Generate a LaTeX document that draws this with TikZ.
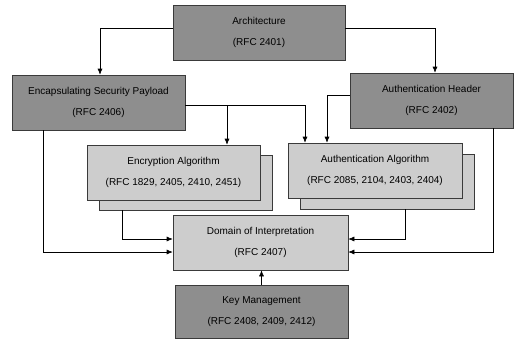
\documentclass[tikz,border=0pt]{standalone}
\usepackage{fontspec}
\setmainfont{Liberation Sans}
\usetikzlibrary{arrows.meta}
\definecolor{darkfill}{HTML}{8E8E8E}
\definecolor{lightfill}{HTML}{CDCDCD}
\definecolor{edge}{HTML}{3A3A3A}
\begin{document}
\begin{tikzpicture}[x=1pt,y=-1pt,
  box/.style={draw=edge,line width=0.6pt,minimum width=#1,minimum height=55pt,
    align=center,inner sep=0pt,font=\fontsize{10}{21}\selectfont},
  darkbox/.style={box=#1,fill=darkfill},
  lightbox/.style={box=#1,fill=lightfill},
  arr/.style={draw=black,line width=0.6pt,-{Latex[length=6pt,width=5pt]}}]
\useasboundingbox (0,0) rectangle (529,341);

% security protocol components
\node[darkbox=172pt] (arch) at (259,32.5) {Architecture\\(RFC 2401)};
\node[darkbox=173pt] (esp) at (98.5,102.5) {Encapsulating Security Payload\\(RFC 2406)};
\node[darkbox=163pt] (ah) at (431.5,100.5) {Authentication Header\\(RFC 2402)};

% stacked algorithm boxes
\node[lightbox=173pt] (encback) at (185.5,182.5) {};
\node[lightbox=173pt] (enc) at (173.5,172.5) {Encryption Algorithm\\(RFC 1829, 2405, 2410, 2451)};
\node[lightbox=174pt] (authback) at (387,181.5) {};
\node[lightbox=174pt] (auth) at (375,170.5) {Authentication Algorithm\\(RFC 2085, 2104, 2403, 2404)};

\node[lightbox=175pt] (doi) at (260.5,242.5) {Domain of Interpretation\\(RFC 2407)};
\node[darkbox=173pt,minimum height=53pt] (km) at (261.5,311.5) {Key Management\\(RFC 2408, 2409, 2412)};

% connectors from the architecture
\draw[arr] ([yshift=4.5pt]arch.west) -| ([xshift=1.5pt]esp.north);
\draw[arr] ([yshift=4.5pt]arch.east) -| ([xshift=3.5pt]ah.north);

% connectors into the algorithms
\draw[arr] ([yshift=-2.5pt]esp.east) -| ([xshift=53.5pt]enc.north);
\draw[arr] ([yshift=-2.5pt]esp.east) -| ([xshift=-70pt]auth.north);
\draw[arr] ([yshift=5.5pt]ah.west) -| ([xshift=-48pt]auth.north);

% connectors into the domain of interpretation
\draw[arr] ([xshift=-55.5pt]esp.south) |- ([yshift=-9.5pt]doi.west);
\draw[arr] ([xshift=-63.5pt]encback.south) |- ([yshift=3.5pt]doi.west);
\draw[arr] ([xshift=18pt]authback.south) |- ([yshift=3.5pt]doi.east);
\draw[arr] ([xshift=61.5pt]ah.south) |- ([yshift=-9.5pt]doi.east);
\draw[arr] (km.north) -- (km.north |- doi.south);
\end{tikzpicture}
\end{document}
